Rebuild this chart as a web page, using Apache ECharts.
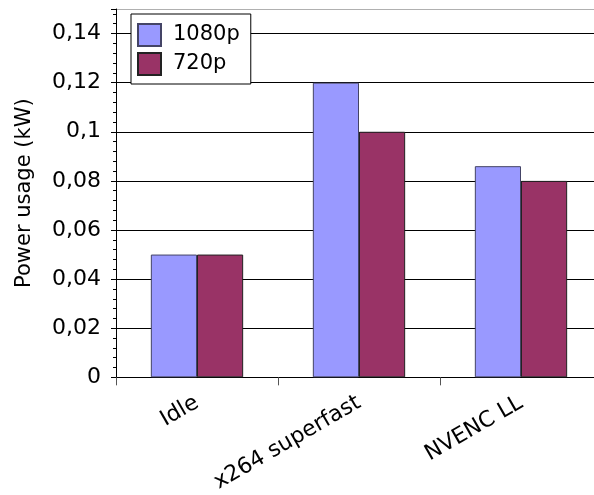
<!DOCTYPE html>
<html>
<head>
<meta charset="utf-8">
<script src="https://cdn.jsdelivr.net/npm/echarts@6/dist/echarts.min.js"></script>
<style>
  html, body { margin: 0; padding: 0; background: #fff; overflow: hidden; }
  /* the plot runs slightly past the right edge of the window */
  #chart { width: 602px; height: 495px; }
</style>
</head>
<body>
<div id="chart"></div>
<script>
// Power usage per encoding mode, in kW
const categories = ['Idle', 'x264 superfast', 'NVENC LL'];
const power1080p = [0.05, 0.12, 0.086];
const power720p = [0.05, 0.10, 0.08];
const seriesNames = ['1080p', '720p'];

const FONT = 'DejaVu Sans';
const chart = echarts.init(document.getElementById('chart'));

function commaDecimal(v) {
  return String(+v.toFixed(4)).replace('.', ',');
}

// grid lines are black, the top edge of the plot is a light frame line
const splitColors = ['#000', '#000', '#000', '#000', '#000', '#000', '#000', '#000', '#b0b0b0'];

chart.setOption({
  animation: false,
  textStyle: { fontFamily: FONT },
  grid: { left: 116, top: 9, right: 0, bottom: 114 },
  legend: {
    orient: 'vertical',
    left: 131,
    top: 14,
    padding: [9, 11, 8, 6],
    itemWidth: 23,
    itemHeight: 22,
    itemGap: 5,
    icon: 'rect',
    borderColor: '#000',
    borderWidth: 1,
    backgroundColor: '#fff',
    textStyle: { fontFamily: FONT, fontSize: 21, color: '#000', padding: [0, 0, 0, 7] },
    data: seriesNames
  },
  xAxis: {
    type: 'category',
    data: categories,
    axisLine: { lineStyle: { color: '#000', width: 1 } },
    axisTick: { show: true, length: 8, lineStyle: { color: '#555' } },
    axisLabel: {
      rotate: 30,
      margin: 24,
      fontFamily: FONT,
      fontSize: 22,
      color: '#000'
    }
  },
  yAxis: {
    type: 'value',
    min: 0,
    max: 0.15,
    interval: 0.02,
    name: 'Power usage (kW)',
    nameLocation: 'middle',
    nameGap: 81,
    nameTextStyle: { fontFamily: FONT, fontSize: 21, color: '#000' },
    axisLine: { show: true, lineStyle: { color: '#000', width: 1 } },
    axisTick: { show: true, length: 5, lineStyle: { color: '#000' } },
    minorTick: { show: true, splitNumber: 5, length: 3, lineStyle: { color: '#000' } },
    splitLine: { show: true, lineStyle: { color: splitColors, width: 1 } },
    axisLabel: {
      fontFamily: FONT,
      fontSize: 22,
      color: '#000',
      margin: 15,
      formatter: function (v) {
        if (Math.abs(v - 0.15) < 1e-9) return '';
        return commaDecimal(v);
      }
    }
  },
  series: [
    {
      name: seriesNames[0],
      type: 'bar',
      data: power1080p,
      barGap: '0%',
      barCategoryGap: '43%',
      itemStyle: { color: '#9999ff', borderColor: '#444466', borderWidth: 1 }
    },
    {
      name: seriesNames[1],
      type: 'bar',
      data: power720p,
      itemStyle: { color: '#993366', borderColor: '#222', borderWidth: 1 }
    }
  ]
});
</script>
</body>
</html>
